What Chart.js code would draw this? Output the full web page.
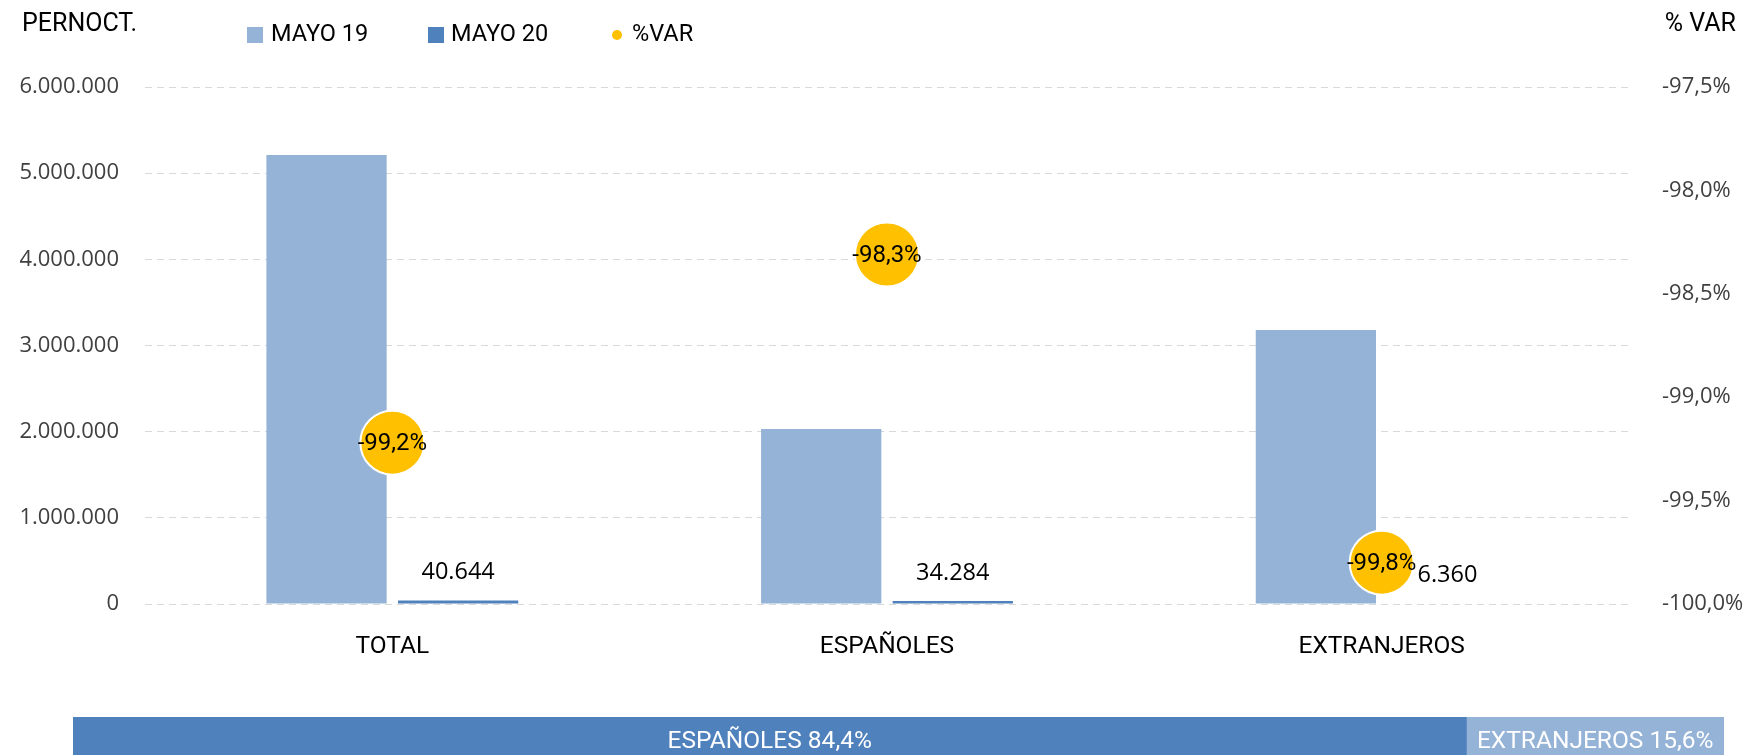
<!DOCTYPE html>
<html>
<head>
<meta charset="utf-8">
<script src="https://cdn.jsdelivr.net/npm/chart.js@4"></script>
<style>
	html, body { margin: 0; padding: 0; background: #fff; overflow: hidden; }
	#pagina { position: relative; width: 1747px; height: 755px; }
	#graficoPernoctaciones { position: absolute; left: 0; top: 0; }
	#graficoCuota { position: absolute; left: 0; top: 717px; }
</style>
</head>
<body>
<div id="pagina">
	<canvas id="graficoPernoctaciones" width="1747" height="700"></canvas>
	<canvas id="graficoCuota" width="1747" height="48"></canvas>
</div>
<script>
var categorias = ['TOTAL', 'ESPAÑOLES', 'EXTRANJEROS'];
var mayo19 = [5210000, 2030000, 3180000];
var mayo20 = [40644, 34284, 6360];
var variacion = [-99.22, -98.31, -99.80];
var ticksPernoct = [0, 1000000, 2000000, 3000000, 4000000, 5000000, 6000000];
var ticksVariacion = [-100, -99.5, -99, -98.5, -98, -97.5];
var cuotaEtiquetas = ['ESPAÑOLES', 'EXTRANJEROS'];
var cuotaValores = [84.4, 15.6];

var fonteEstreita = '"Liberation Sans Narrow", "Arial Narrow", Roboto, sans-serif';
var fonteNormal = '"Open Sans", "Noto Sans", sans-serif';

var AZUL_CLARO = '#95B3D7';
var AZUL = '#4F81BD';
var AMARELO = '#FFC000';

function milhares(v) {
	return String(Math.round(v)).replace(/\B(?=(\d{3})+(?!\d))/g, '.');
}

function percentual(v) {
	return v.toFixed(1).replace('.', ',') + '%';
}

var rotulosPlugin = {
	id: 'rotulos',
	afterDraw: function(chart) {
		var ctx = chart.ctx;
		var ds = chart.data.datasets;
		ctx.save();

		// titulos dos eixos
		ctx.fillStyle = '#000';
		ctx.textBaseline = 'middle';
		ctx.font = '25px ' + fonteEstreita;
		ctx.textAlign = 'left';
		ctx.fillText('PERNOCT.', 22, 25);
		ctx.textAlign = 'right';
		ctx.fillText('% VAR', 1736, 25);

		// legenda
		ctx.font = '23.5px ' + fonteEstreita;
		ctx.textAlign = 'left';
		ctx.fillStyle = ds[0].backgroundColor;
		ctx.fillRect(247, 27, 16, 16);
		ctx.fillStyle = ds[1].backgroundColor;
		ctx.fillRect(428, 27, 16, 16);
		ctx.fillStyle = ds[2].pointBackgroundColor;
		ctx.beginPath();
		ctx.arc(617, 35, 5, 0, Math.PI * 2);
		ctx.fill();
		ctx.fillStyle = '#000';
		ctx.fillText(ds[0].label, 271, 35);
		ctx.fillText(ds[1].label, 451, 35);
		ctx.fillText(ds[2].label, 632, 35);

		// valores de MAYO 20
		ctx.font = '23.5px ' + fonteNormal;
		ctx.textAlign = 'center';
		ctx.textBaseline = 'bottom';
		chart.getDatasetMeta(1).data.forEach(function(el, i) {
			ctx.fillText(milhares(ds[1].data[i]), el.x, el.y - 16);
		});

		// variacao dentro dos circulos
		ctx.font = '24px ' + fonteEstreita;
		ctx.textBaseline = 'middle';
		chart.getDatasetMeta(2).data.forEach(function(el, i) {
			ctx.fillText(percentual(ds[2].data[i]), el.x, el.y + 1);
		});
		ctx.restore();
	}
};

var graficoPernoctaciones = new Chart(document.getElementById('graficoPernoctaciones').getContext('2d'), {
	type: 'bar',
	data: {
		labels: categorias,
		datasets: [{
			label: 'MAYO 19',
			backgroundColor: AZUL_CLARO,
			data: mayo19,
			categoryPercentage: 0.532,
			barPercentage: 0.914
		}, {
			label: 'MAYO 20',
			backgroundColor: AZUL,
			data: mayo20,
			categoryPercentage: 0.532,
			barPercentage: 0.914
		}, {
			type: 'line',
			label: '%VAR',
			data: variacion,
			yAxisID: 'y1',
			order: -1,
			showLine: false,
			pointRadius: 32,
			pointHoverRadius: 32,
			pointBackgroundColor: AMARELO,
			pointBorderColor: '#fff',
			pointBorderWidth: 2
		}]
	},
	options: {
		responsive: false,
		animation: false,
		devicePixelRatio: 1,
		layout: { padding: { top: 87, left: 0, right: 0, bottom: 0 } },
		plugins: {
			legend: { display: false },
			tooltip: { enabled: false }
		},
		scales: {
			x: {
				grid: { display: false },
				border: { display: false },
				ticks: { color: '#000', font: { family: fonteEstreita, size: 24.5 }, padding: 20 },
				afterFit: function(s) { s.height = 96; }
			},
			y: {
				position: 'left',
				min: 0,
				max: 6000000,
				afterBuildTicks: function(s) { s.ticks = ticksPernoct.map(function(v) { return { value: v }; }); },
				ticks: {
					color: '#404040',
					font: { family: fonteNormal, size: 22 },
					padding: 26,
					callback: function(v) { return milhares(v); }
				},
				grid: { color: '#d9d9d9', lineWidth: 1, drawTicks: false },
				border: { display: false, dash: [7, 5] },
				afterFit: function(s) { s.width = 145; }
			},
			y1: {
				position: 'right',
				min: -100,
				max: -97.5,
				afterBuildTicks: function(s) { s.ticks = ticksVariacion.map(function(v) { return { value: v }; }); },
				ticks: {
					color: '#404040',
					font: { family: fonteNormal, size: 22 },
					padding: 25,
					callback: function(v) { return percentual(v); }
				},
				grid: { display: false },
				border: { display: false },
				afterFit: function(s) { s.width = 118; }
			}
		}
	},
	plugins: [rotulosPlugin]
});

var cuotaPlugin = {
	id: 'cuotaRotulos',
	afterDraw: function(chart) {
		var ctx = chart.ctx;
		ctx.save();
		ctx.fillStyle = '#fff';
		ctx.font = '24.5px ' + fonteEstreita;
		ctx.textAlign = 'center';
		ctx.textBaseline = 'middle';
		chart.data.datasets.forEach(function(d, i) {
			var el = chart.getDatasetMeta(i).data[0];
			var meio = (el.x + el.base) / 2;
			ctx.fillText(d.label + ' ' + percentual(d.data[0]), meio, 25);
		});
		ctx.restore();
	}
};

var graficoCuota = new Chart(document.getElementById('graficoCuota').getContext('2d'), {
	type: 'bar',
	data: {
		labels: ['CUOTA'],
		datasets: cuotaEtiquetas.map(function(nome, i) {
			return {
				label: nome,
				data: [cuotaValores[i]],
				backgroundColor: i === 0 ? AZUL : AZUL_CLARO,
				barPercentage: 1,
				categoryPercentage: 1
			};
		})
	},
	options: {
		indexAxis: 'y',
		responsive: false,
		animation: false,
		devicePixelRatio: 1,
		layout: { padding: { left: 73, right: 23, top: 0, bottom: 0 } },
		plugins: {
			legend: { display: false },
			tooltip: { enabled: false }
		},
		scales: {
			x: { display: false, stacked: true, min: 0, max: 100 },
			y: { display: false, stacked: true }
		}
	},
	plugins: [cuotaPlugin]
});
</script>
</body>
</html>
